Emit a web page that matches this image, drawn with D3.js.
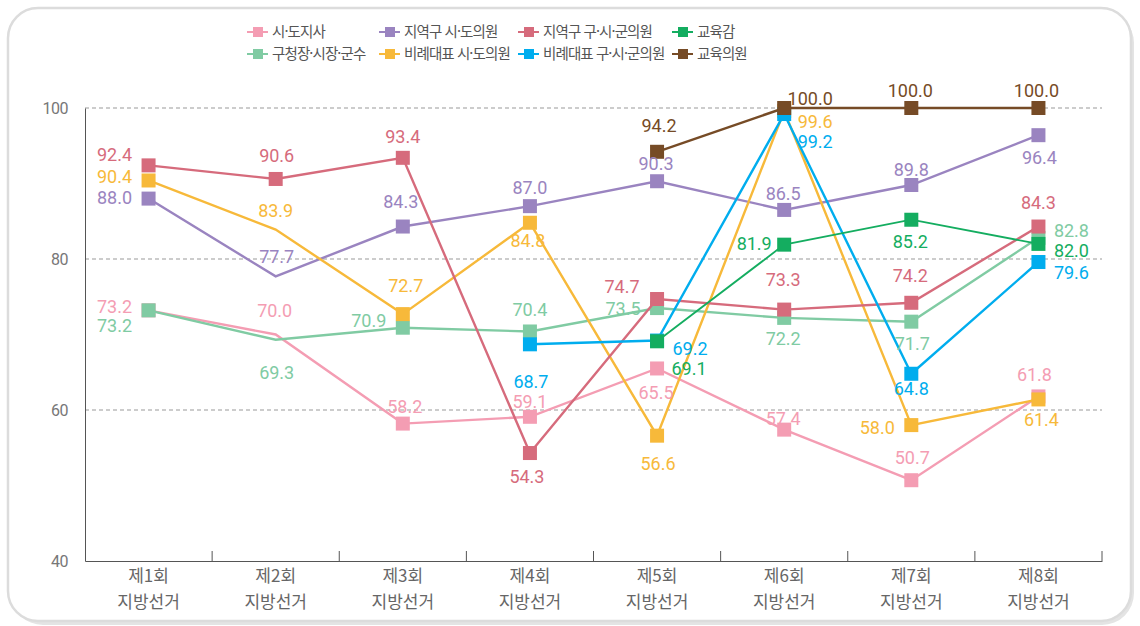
<!DOCTYPE html>
<html lang="ko">
<head>
<meta charset="UTF-8">
<title>지방선거 경쟁률</title>
<script src="https://d3js.org/d3.v7.min.js"></script>
<style>
  body { margin: 0; background: #fff; }
  .val { font-family: Roboto, sans-serif; font-size: 18px; text-anchor: middle; }
</style>
</head>
<body>
<svg id="chart" width="1140" height="626"></svg>
<script>
// 선거 회차
var categories = ["제1회 지방선거", "제2회 지방선거", "제3회 지방선거", "제4회 지방선거",
                  "제5회 지방선거", "제6회 지방선거", "제7회 지방선거", "제8회 지방선거"];
var yTicks = [40, 60, 80, 100];

// 계열별 값 (null = 해당 회차 없음)
var sidoJisa      = [73.2, 70.0, 58.2, 59.1, 65.5, 57.4, 50.7, 61.8];
var guchung       = [73.2, 69.3, 70.9, 70.4, 73.5, 72.2, 71.7, 82.8];
var jiyeokSido    = [88.0, 77.7, 84.3, 87.0, 90.3, 86.5, 89.8, 96.4];
var biryeSido     = [90.4, 83.9, 72.7, 84.8, 56.6, 99.6, 58.0, 61.4];
var jiyeokGusigun = [92.4, 90.6, 93.4, 54.3, 74.7, 73.3, 74.2, 84.3];
var biryeGusigun  = [null, null, null, 68.7, 69.2, 99.2, 64.8, 79.6];
var gyoyukgam     = [null, null, null, null, 69.1, 81.9, 85.2, 82.0];
var gyoyukUiwon   = [null, null, null, null, 94.2, 100.0, 100.0, 100.0];

// 그리는 순서 (뒤에 있을수록 위)
var series = [
  { name: "시·도지사",           values: sidoJisa,      color: "#f49db3" },
  { name: "구청장·시장·군수",     values: guchung,       color: "#80cba3" },
  { name: "지역구 시·도의원",     values: jiyeokSido,    color: "#9a84c0" },
  { name: "비례대표 시·도의원",   values: biryeSido,     color: "#f7b93a" },
  { name: "지역구 구·시·군의원",  values: jiyeokGusigun, color: "#d66b7c" },
  { name: "비례대표 구·시·군의원", values: biryeGusigun,  color: "#00adee" },
  { name: "교육감",              values: gyoyukgam,     color: "#14ad60", thin: true },
  { name: "교육의원",            values: gyoyukUiwon,   color: "#764b26" }
];

// 범례 순서 (2행 4열)
var legendOrder = ["시·도지사", "지역구 시·도의원", "지역구 구·시·군의원", "교육감",
                   "구청장·시장·군수", "비례대표 시·도의원", "비례대표 구·시·군의원", "교육의원"];

// 마커를 그리지 않는 점
var noMarker = {
  "시·도지사": [1], "구청장·시장·군수": [1], "지역구 시·도의원": [1], "비례대표 시·도의원": [1]
};

// 값 라벨 위치 (점 기준 dx, dy)
var labelOffsets = {
  "시·도지사":           [[-34,-4],[-1,-24],[2,-17],[0,-15],[-1,24],[-1,-11],[1,-23],[-4,-22]],
  "구청장·시장·군수":     [[-34,15],[1,33],[-34,-7],[0,-22],[-34,0],[-1,21],[1,22],[33,-7]],
  "지역구 시·도의원":     [[-34,-1],[1,-20],[-2,-25],[0,-19],[-1,-18],[-1,-16],[0,-15],[1,22]],
  "비례대표 시·도의원":   [[-34,-4],[0,-19],[3,-29],[-2,18],[1,28],[31,10],[-34,2],[3,20]],
  "지역구 구·시·군의원":  [[-34,-11],[1,-23],[0,-21],[-3,23],[-35,-12],[-1,-30],[-1,-27],[0,-24]],
  "비례대표 구·시·군의원": [null,null,null,[1,37],[33,8],[31,27],[0,15],[33,10]],
  "교육감":              [null,null,null,null,[32,27],[-30,-1],[-1,22],[33,7]],
  "교육의원":            [null,null,null,null,[2,-26],[26,-9],[-1,-17],[-2,-17]]
};

var svg = d3.select("#chart");
var krFont = "'Noto Sans CJK KR', sans-serif";

// 카드 배경
svg.append("rect").attr("x", 11).attr("y", 11).attr("width", 1123).attr("height", 614)
   .attr("rx", 32).attr("fill", "#e4e4e4");
svg.append("rect").attr("x", 8).attr("y", 8).attr("width", 1123).attr("height", 613)
   .attr("rx", 30).attr("fill", "#fff").attr("stroke", "#dcdcdc").attr("stroke-width", 2.5);

var x = d3.scaleBand().domain(categories).range([85, 1102]);
var y = d3.scaleLinear().domain([40, 100]).range([561, 108]);

// 가로 점선
svg.append("g").selectAll("line")
   .data(yTicks.filter(function(d) { return d > 40; }))
   .enter().append("line")
   .attr("x1", 85).attr("x2", 1102)
   .attr("y1", function(d) { return y(d); }).attr("y2", function(d) { return y(d); })
   .attr("stroke", "#999").attr("stroke-dasharray", "4,3");

// Y축
var yAxis = svg.append("g")
   .attr("transform", "translate(85,0)")
   .call(d3.axisLeft(y).tickValues(yTicks).tickSize(0).tickPadding(17).tickFormat(d3.format("d")));
yAxis.attr("font-family", "Roboto, sans-serif").attr("font-size", 16);
yAxis.selectAll("text").attr("fill", "#777").attr("letter-spacing", -0.5);
yAxis.select(".domain").attr("stroke", "#555");

// X축
var xAxis = svg.append("g")
   .attr("transform", "translate(0,561)")
   .call(d3.axisBottom(x).tickSize(0).tickPadding(0));
xAxis.attr("font-family", krFont).attr("font-size", 17);
xAxis.select(".domain").attr("stroke", "#555");
xAxis.selectAll(".tick text").each(function(d) {
  var t = d3.select(this).text("").attr("dy", null).attr("y", null).attr("fill", "#666");
  var parts = d.split(" ");
  t.append("tspan").attr("x", 0).attr("y", 21).text(parts[0]);
  t.append("tspan").attr("x", 0).attr("y", 47).text(parts[1]);
});
svg.append("g").selectAll("line")
   .data(categories)
   .enter().append("line")
   .attr("x1", function(d) { return x(d) + x.bandwidth(); })
   .attr("x2", function(d) { return x(d) + x.bandwidth(); })
   .attr("y1", 561).attr("y2", 551)
   .attr("stroke", "#555");

var cx = function(i) { return x(categories[i]) + x.bandwidth() / 2; };

var line = d3.line()
   .defined(function(d) { return d != null; })
   .x(function(d, i) { return cx(i); })
   .y(function(d) { return y(d); });

var ms = 14;

series.forEach(function(s) {
  var g = svg.append("g");
  g.append("path")
   .datum(s.values)
   .attr("d", line)
   .attr("fill", "none")
   .attr("stroke", s.color)
   .attr("stroke-width", s.thin ? 1.8 : 2.4);

  var skip = noMarker[s.name] || [];
  var pts = s.values.map(function(v, i) { return { v: v, i: i }; })
                    .filter(function(p) { return p.v != null; });

  g.selectAll("rect")
   .data(pts.filter(function(p) { return skip.indexOf(p.i) < 0; }))
   .enter().append("rect")
   .attr("x", function(p) { return cx(p.i) - ms / 2; })
   .attr("y", function(p) { return y(p.v) - ms / 2; })
   .attr("width", ms).attr("height", ms)
   .attr("fill", s.color);
});

// 값 라벨은 선 위에
series.forEach(function(s) {
  var offs = labelOffsets[s.name];
  var pts = s.values.map(function(v, i) { return { v: v, i: i }; })
                    .filter(function(p) { return p.v != null; });
  svg.append("g").selectAll("text")
   .data(pts)
   .enter().append("text")
   .attr("class", "val")
   .attr("x", function(p) { return cx(p.i) + offs[p.i][0]; })
   .attr("y", function(p) { return y(p.v) + offs[p.i][1]; })
   .attr("dy", "0.36em")
   .attr("fill", s.color)
   .text(function(p) { return d3.format(".1f")(p.v); });
});

// 범례
var legendX = [247, 379, 518, 672];
var legendY = [32, 54];
var legend = svg.append("g")
   .attr("font-family", krFont).attr("font-size", 14.5).attr("letter-spacing", -0.9);
legendOrder.forEach(function(name, k) {
  var s = series.find(function(d) { return d.name === name; });
  var lx = legendX[k % 4], ly = legendY[Math.floor(k / 4)];
  var item = legend.append("g").attr("transform", "translate(" + lx + "," + ly + ")");
  item.append("line").attr("x1", 0).attr("x2", 21).attr("y1", 0).attr("y2", 0)
      .attr("stroke", s.color).attr("stroke-width", 2);
  item.append("rect").attr("x", 6).attr("y", -5).attr("width", 10).attr("height", 10)
      .attr("fill", s.color);
  item.append("text").attr("x", 25).attr("y", 0).attr("dy", "0.35em")
      .attr("fill", "#555").text(s.name);
});
</script>
</body>
</html>
